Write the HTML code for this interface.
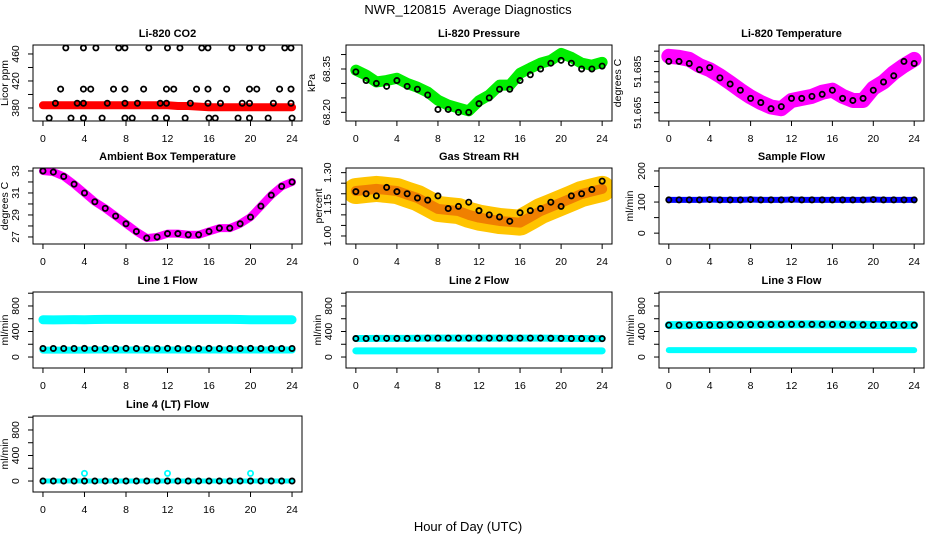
<!DOCTYPE html>
<html><head><meta charset="utf-8">
<style>
html,body{margin:0;padding:0;background:#fff;}
svg{display:block;font-family:"Liberation Sans",Arial,sans-serif;}
</style></head>
<body>
<svg id="chart" width="936" height="540" viewBox="0 0 936 540" xmlns="http://www.w3.org/2000/svg">
<text x="468" y="14" text-anchor="middle" font-size="13" style="white-space:pre">NWR_120815  Average Diagnostics</text>
<text x="468" y="531" text-anchor="middle" font-size="13">Hour of Day (UTC)</text>
</svg>
<script>
// ---- data ----
const hours = [0,1,2,3,4,5,6,7,8,9,10,11,12,13,14,15,16,17,18,19,20,21,22,23,24];
const xTicks = [0,4,8,12,16,20,24];

const co2Band = [384,384,384,384,384,384,384,384,384,384,384,384,384,383,383,382,381,381,381,381,381,381,381,381,381];
const co2PtsX = [2.2,3.9,5.1,7.3,7.9,10.2,12.0,13.2,15.3,15.9,18.2,19.9,21.1,23.3,23.9,
  1.7,3.9,4.6,6.8,7.9,9.7,11.9,12.6,14.8,15.9,17.7,19.9,20.6,22.8,23.9,
  1.2,3.3,3.9,6.2,7.9,9.1,11.3,11.9,14.2,15.9,17.1,19.2,19.9,22.2,23.9,
  0.6,2.7,3.9,5.7,7.9,8.6,10.8,11.9,13.7,16.0,16.6,18.8,19.9,21.7,24.0];
const co2PtsY = [469,469,469,469,469,469,469,469,469,469,469,469,469,469,469,
  408,408,408,408,408,408,408,408,408,408,408,408,408,408,408,
  387,387,387,387,387,387,387,387,387,387,387,387,387,387,387,
  365,365,365,365,365,365,365,365,365,365,365,365,365,365,365];

const presBand = [68.346,68.329,68.305,68.31,68.318,68.30,68.287,68.27,68.242,68.225,68.215,68.205,68.24,68.26,68.294,68.294,68.335,68.353,68.37,68.38,68.404,68.39,68.37,68.363,68.373];
const presPts  = [68.34,68.31,68.30,68.29,68.31,68.29,68.28,68.26,68.21,68.21,68.20,68.20,68.23,68.25,68.28,68.28,68.31,68.33,68.35,68.37,68.38,68.37,68.35,68.35,68.36];

const tempBand = [51.6925,51.692,51.691,51.688,51.686,51.683,51.6796,51.676,51.6727,51.670,51.6678,51.667,51.671,51.672,51.673,51.675,51.676,51.673,51.671,51.671,51.677,51.680,51.6845,51.688,51.691];
const tempPts  = [51.690,51.690,51.689,51.686,51.687,51.682,51.679,51.676,51.672,51.670,51.667,51.668,51.672,51.672,51.673,51.674,51.676,51.672,51.671,51.672,51.676,51.680,51.683,51.690,51.689];

const ambBand = [33.0,32.9,32.5,31.8,31.0,30.2,29.6,28.9,28.2,27.5,26.9,27.0,27.3,27.3,27.2,27.2,27.5,27.8,27.8,28.2,28.8,29.8,30.8,31.6,32.0];

const rhBand = [1.213,1.218,1.223,1.218,1.213,1.196,1.18,1.154,1.128,1.123,1.118,1.10,1.087,1.079,1.071,1.067,1.063,1.09,1.118,1.138,1.158,1.178,1.199,1.211,1.223];
const rhPts  = [1.21,1.20,1.19,1.23,1.21,1.20,1.18,1.17,1.19,1.13,1.14,1.16,1.12,1.10,1.09,1.07,1.11,1.12,1.13,1.16,1.14,1.19,1.20,1.22,1.26];

const sampleBand = [107,107,107,107,108,107,107,107,108,107,107,107,108,107,107,107,107,107,107,107,108,107,107,107,107];
const line1Upper = [585,582,585,586,584,588,590,590,590,590,590,590,590,590,590,590,590,590,590,588,585,585,585,585,585];
const line1Lower = [108,108,108,108,108,110,110,110,110,110,110,110,110,110,110,110,110,110,110,110,110,110,110,110,110];
const line1Pts   = [134,134,134,134,135,134,134,134,136,134,134,134,136,134,134,134,136,134,134,134,136,134,134,134,134];
const line2Lower = [97,97,97,97,97,97,97,97,97,97,97,97,97,97,97,97,97,97,97,97,97,97,97,97,97];
const line2Pts   = [290,290,292,293,292,292,294,296,296,296,296,296,296,296,296,296,296,296,296,294,292,290,290,288,288];
const line3Lower = [108,108,108,108,108,108,108,108,108,108,108,108,108,108,108,108,108,108,108,108,108,108,108,108,108];
const line3Pts   = [500,500,500,502,502,502,505,505,508,508,510,510,512,512,512,510,510,508,505,505,502,502,502,500,500];
const line4Pts   = [0,0,0,0,0,0,0,0,0,0,0,0,0,0,0,0,0,0,0,0,0,0,0,0,0];
const line4SpikeX = [4,12,20];
const line4SpikeY = [120,120,120];

// ---- layout ----
const svg = document.getElementById('chart');
const NS = 'http://www.w3.org/2000/svg';
const cols = [[33,302],[346,612],[659,924]];
const rows = [[45,121],[168,244],[292,368],[416,492]];
function mk(tag, attrs, parent){
  const e = document.createElementNS(NS, tag);
  for (const k in attrs) e.setAttribute(k, attrs[k]);
  (parent||svg).appendChild(e);
  return e;
}
function panel(cfg){
  const [x0,x1] = cols[cfg.c], [y0,y1] = rows[cfg.r];
  const g = mk('g', {});
  
  
  const xs = v => x0 + (v + 0.96) / 25.92 * (x1 - x0);
  const ys = v => y1 - (v - cfg.ylim[0]) / (cfg.ylim[1] - cfg.ylim[0]) * (y1 - y0);
  const clipId = 'clip' + cfg.name;
  const cp = mk('clipPath', {id: clipId}, g);
  mk('rect', {x:x0, y:y0, width:x1-x0, height:y1-y0}, cp);
  const plot = mk('g', {'clip-path':'url(#'+clipId+')'}, g);
  
  
  function band(vals, color, w, nm){
    const p = mk('polyline', {points: vals.map((v,i)=>xs(hours[i])+','+ys(v)).join(' '), fill:'none', stroke:color, 'stroke-width':w, 'stroke-linecap':'round', 'stroke-linejoin':'round'}, plot);
    
    
  }
  function pts(xv, yv, color, nm){
    for (let i=0;i<yv.length;i++){
      const c = mk('circle', {cx:xs(xv[i]), cy:ys(yv[i]), r:2.6, fill:'none', stroke:color, 'stroke-width':1.8}, plot);
      
      
    }
  }
  cfg.draw(band, pts);
  const b = mk('rect', {x:x0, y:y0, width:x1-x0, height:y1-y0, fill:'none', stroke:'#000', 'stroke-width':1}, g);
  
  
  xTicks.forEach(t=>{
    mk('line', {x1:xs(t), x2:xs(t), y1:y1, y2:y1+5, stroke:'#000'}, g);
    const tx = mk('text', {x:xs(t), y:y1+21, 'text-anchor':'middle', 'font-size':10.5}, g);
    tx.textContent = t;
    
    
  });
  cfg.yticks.forEach((t,i)=>{
    mk('line', {x1:x0, x2:x0-5, y1:ys(t), y2:ys(t), stroke:'#000'}, g);
    const lab = cfg.ylabels[i];
    if (lab){
      const lx = x0 - (cfg.lo||14), ly = ys(t);
      const tx = mk('text', {x:lx, y:ly, 'text-anchor':'middle', 'font-size':10.5, transform:'rotate(-90 '+lx+' '+ly+')'}, g);
      tx.textContent = lab;
      
      
    }
  });
  const ax = x0 - cfg.yo, ay = (y0+y1)/2;
  const yl = mk('text', {x:ax, y:ay, 'text-anchor':'middle', 'font-size':10.5, transform:'rotate(-90 '+ax+' '+ay+')'}, g);
  yl.textContent = cfg.ylab;
  
  
  const tt = mk('text', {x:(x0+x1)/2, y:y0-8, 'text-anchor':'middle', 'font-size':11, 'font-weight':'bold'}, g);
  tt.textContent = cfg.title;
  
  
}
const flowTicks = [0,200,400,600,800,1000];
const flowLabels = ['0','','400','','800',''];
const flowYlim = [-172, 1019];

panel({name:'co2-panel', c:0, r:0, title:'Li-820 CO2', ylab:'Licor ppm', yo:25, ylim:[360.7,473.3],
  yticks:[380,400,420,440,460], ylabels:['380','','420','','460'],
  draw:(band,pts)=>{ band(co2Band,'#ff0000',8,'co2-band'); pts(co2PtsX,co2PtsY,'#000','co2-point'); }});
panel({name:'pressure-panel', c:1, r:0, title:'Li-820 Pressure', ylab:'kPa', yo:31, lo:16, ylim:[68.170,68.433],
  yticks:[68.20,68.25,68.30,68.35,68.40], ylabels:['68.20','','','68.35',''],
  draw:(band,pts)=>{ band(presBand,'#00ee00',11,'pressure-band'); pts(hours,presPts,'#000','pressure-point'); }});
panel({name:'temperature-panel', c:2, r:0, title:'Li-820 Temperature', ylab:'degrees C', yo:38, lo:18, ylim:[51.661,51.698],
  yticks:[51.665,51.670,51.675,51.680,51.685,51.690,51.695], ylabels:['51.665','','','','51.685','',''],
  draw:(band,pts)=>{ band(tempBand,'#ff00ff',15,'temperature-band'); pts(hours,tempPts,'#000','temperature-point'); }});
panel({name:'ambient-panel', c:0, r:1, title:'Ambient Box Temperature', ylab:'degrees C', yo:25, ylim:[26.36,33.27],
  yticks:[27,28,29,30,31,32,33], ylabels:['27','','29','','31','','33'],
  draw:(band,pts)=>{ band(ambBand,'#ff00ff',8,'ambient-band'); pts(hours,ambBand,'#000','ambient-point'); }});
panel({name:'rh-panel', c:1, r:1, title:'Gas Stream RH', ylab:'percent', yo:24, lo:15, ylim:[0.962,1.322],
  yticks:[1.00,1.05,1.10,1.15,1.20,1.25,1.30], ylabels:['1.00','','','1.15','','','1.30'],
  draw:(band,pts)=>{ band(rhBand,'#ffc400',26,'rh-band'); band(rhBand,'#f08000',10,'rh-band-core'); pts(hours,rhPts,'#000','rh-point'); }});
panel({name:'sample-flow-panel', c:2, r:1, title:'Sample Flow', ylab:'ml/min', yo:26, ylim:[-34.9,209.5],
  yticks:[0,50,100,150,200], ylabels:['0','','100','','200'],
  draw:(band,pts)=>{ band(sampleBand,'#0000ff',6,'sample-band'); pts(hours,sampleBand,'#000','sample-point'); }});
panel({name:'line1-panel', c:0, r:2, title:'Line 1 Flow', ylab:'ml/min', yo:25, ylim:flowYlim,
  yticks:flowTicks, ylabels:flowLabels,
  draw:(band,pts)=>{ band(line1Upper,'#00ffff',9,'line1-upper-band'); band(line1Lower,'#00ffff',7,'line1-lower-band'); pts(hours,line1Pts,'#000','line1-point'); }});
panel({name:'line2-panel', c:1, r:2, title:'Line 2 Flow', ylab:'ml/min', yo:25, ylim:flowYlim,
  yticks:flowTicks, ylabels:flowLabels,
  draw:(band,pts)=>{ band(line2Pts,'#00ffff',7,'line2-upper-band'); band(line2Lower,'#00ffff',7,'line2-lower-band'); pts(hours,line2Pts,'#000','line2-point'); }});
panel({name:'line3-panel', c:2, r:2, title:'Line 3 Flow', ylab:'ml/min', yo:25, ylim:flowYlim,
  yticks:flowTicks, ylabels:flowLabels,
  draw:(band,pts)=>{ band(line3Pts,'#00ffff',8,'line3-upper-band'); band(line3Lower,'#00ffff',6,'line3-lower-band'); pts(hours,line3Pts,'#000','line3-point'); }});
panel({name:'line4-panel', c:0, r:3, title:'Line 4 (LT) Flow', ylab:'ml/min', yo:25, ylim:flowYlim,
  yticks:flowTicks, ylabels:flowLabels,
  draw:(band,pts)=>{ band(line4Pts,'#00ffff',5,'line4-band'); pts(line4SpikeX,line4SpikeY,'#00ffff','line4-spike'); pts(hours,line4Pts,'#000','line4-point'); }});
</script>
</body></html>
